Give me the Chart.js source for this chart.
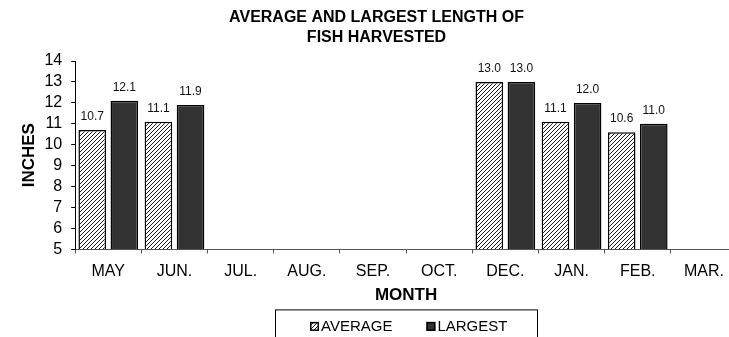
<!DOCTYPE html>
<html>
<head>
<meta charset="utf-8">
<script src="https://cdn.jsdelivr.net/npm/chart.js@4.4.1/dist/chart.umd.min.js"></script>
<style>
  html, body { margin: 0; padding: 0; background: #fff; overflow: hidden; }
  #wrap { position: relative; width: 745px; height: 337px; }
</style>
</head>
<body>
<div id="wrap"><canvas id="fish"></canvas></div>
<script>
// monthly lengths (inches)
var months  = ['MAY', 'JUN.', 'JUL.', 'AUG.', 'SEP.', 'OCT.', 'DEC.', 'JAN.', 'FEB.', 'MAR.'];
var average = [10.7, 11.1, null, null, null, null, 13.0, 11.1, 10.6, null];
var largest = [12.1, 11.9, null, null, null, null, 13.0, 12.0, 11.0, null];
var yMin = 5, yMax = 14;

var FONT = "'Liberation Sans', Arial, sans-serif";
Chart.defaults.font.family = FONT;
Chart.defaults.color = '#000';

function hatch() {
  var c = document.createElement('canvas');
  c.width = 4; c.height = 4;
  var g = c.getContext('2d');
  g.fillStyle = '#fff';
  g.fillRect(0, 0, 4, 4);
  g.strokeStyle = '#000';
  g.lineWidth = 0.9;
  g.beginPath();
  g.moveTo(0, 4); g.lineTo(4, 0);
  g.moveTo(-1, 1); g.lineTo(1, -1);
  g.moveTo(3, 5); g.lineTo(5, 3);
  g.stroke();
  return g.createPattern(c, 'repeat');
}

var barLabels = {
  id: 'barLabels',
  afterDatasetsDraw: function(chart) {
    var ctx = chart.ctx;
    ctx.save();
    ctx.font = '12px ' + FONT;
    ctx.fillStyle = '#111';
    ctx.textAlign = 'center';
    ctx.textBaseline = 'alphabetic';
    chart.data.datasets.forEach(function(ds, i) {
      chart.getDatasetMeta(i).data.forEach(function(bar, j) {
        if (ds.data[j] == null) return;
        ctx.fillText(ds.data[j].toFixed(1), bar.x, bar.y - 10);
      });
    });
    ctx.restore();
  }
};

// boxed legend under the month title
var boxLegend = {
  id: 'boxLegend',
  afterDraw: function(chart) {
    var ctx = chart.ctx, a = chart.chartArea;
    var cx = (a.left + a.right) / 2;
    var top = a.bottom + 60;
    ctx.save();
    ctx.strokeStyle = '#000';
    ctx.lineWidth = 1;
    ctx.strokeRect(Math.round(cx - 131) + 0.5, top + 0.5, 262, 60);

    ctx.font = '15px ' + FONT;
    ctx.textBaseline = 'middle';
    ctx.textAlign = 'left';
    var sw = 9, gapText = 2, gapItem = 34;
    var items = chart.data.datasets;
    var total = 0;
    items.forEach(function(ds, i) {
      total += sw + gapText + ctx.measureText(ds.label).width + (i ? gapItem : 0);
    });
    var x = Math.round(cx + 3 - total / 2);
    var ty = top + 17;
    items.forEach(function(ds, i) {
      if (i) x += gapItem;
      ctx.fillStyle = ds.backgroundColor;
      ctx.fillRect(x, ty - 4.5, sw, sw);
      ctx.lineWidth = 1.5;
      ctx.strokeRect(x + 0.75, ty - 3.75, sw - 1.5, sw - 1.5);
      x += sw + gapText;
      ctx.fillStyle = '#000';
      ctx.fillText(ds.label, x, ty + 0.5);
      x += ctx.measureText(ds.label).width;
    });
    ctx.restore();
  }
};

new Chart(document.getElementById('fish'), {
  type: 'bar',
  data: {
    labels: months,
    datasets: [{
      label: 'AVERAGE',
      data: average,
      backgroundColor: hatch(),
      borderColor: '#000',
      borderWidth: 1.5,
      base: yMin
    }, {
      label: 'LARGEST',
      data: largest,
      backgroundColor: '#333333',
      borderColor: '#000',
      borderWidth: 1.5,
      base: yMin
    }]
  },
  options: {
    responsive: true,
    maintainAspectRatio: false,
    animation: false,
    datasets: { bar: { categoryPercentage: 0.97, barPercentage: 0.86 } },
    layout: { padding: { left: 16, right: 8, top: 0, bottom: 29 } },
    plugins: {
      title: {
        display: true,
        text: ['AVERAGE AND LARGEST LENGTH OF', 'FISH HARVESTED'],
        font: { size: 16, weight: 'bold', lineHeight: 1.22 },
        padding: { top: 8, bottom: 14 }
      },
      legend: { display: false },
      tooltip: { enabled: false }
    },
    scales: {
      x: {
        grid: { offset: true, drawOnChartArea: false, tickLength: 4, color: '#555' },
        border: { color: '#555', width: 1 },
        ticks: { font: { size: 16 }, padding: 9 },
        title: { display: true, text: 'MONTH', font: { size: 17, weight: 'bold' }, padding: { top: -5, bottom: 2 } }
      },
      y: {
        min: yMin,
        max: yMax,
        grid: { drawOnChartArea: false, tickLength: 4, color: '#000' },
        border: { color: '#000', width: 1 },
        ticks: { stepSize: 1, autoSkip: false, font: { size: 16 }, padding: 9 },
        title: { display: true, text: 'INCHES', font: { size: 17, weight: 'bold' }, padding: { top: 3, bottom: -4 } }
      }
    }
  },
  plugins: [barLabels, boxLegend]
});
</script>
</body>
</html>
